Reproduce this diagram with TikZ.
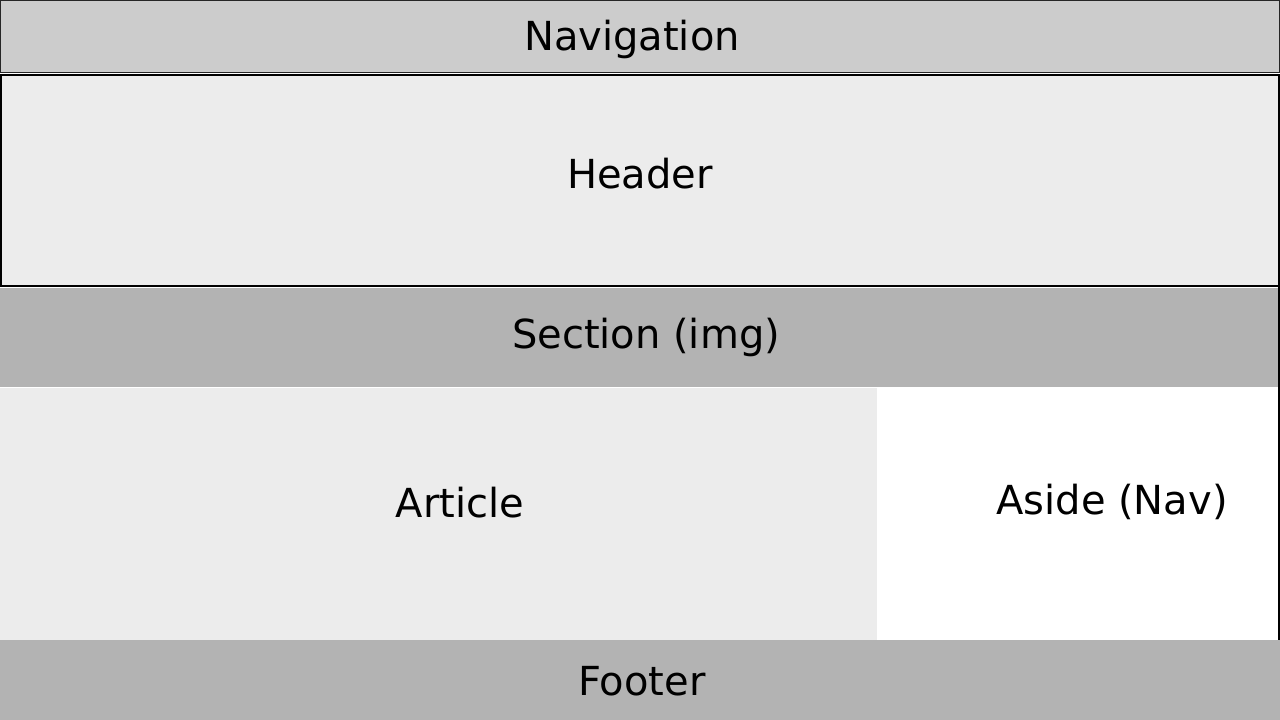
\documentclass[tikz,border=0pt]{standalone}
\usepackage{fontspec}
\setmainfont{DejaVu Sans}
\definecolor{navgray}{HTML}{CCCCCC}
\definecolor{lightgray}{HTML}{ECECEC}
\definecolor{midgray}{HTML}{B3B3B3}
\begin{document}
\begin{tikzpicture}[x=1pt,y=-1pt,
  lbl/.style={anchor=base,inner sep=0pt,font=\fontsize{40}{48}\selectfont,text=black}]
\useasboundingbox (0,0) rectangle (1280,720);
% boxes
\fill[navgray] (0,0) rectangle (1280,73);
\draw[black!85,line width=1.2pt] (0.6,0.6) rectangle (1279.4,72.4);
\fill[lightgray] (0,74) rectangle (1280,287);
\draw[black,line width=2pt] (1,75) rectangle (1279,286);
\fill[midgray] (0,288) rectangle (1280,387);
\fill[lightgray] (0,388) rectangle (877,640);
\fill[white] (877,388) rectangle (1280,640);
\draw[black,line width=1.5pt] (1279,287) -- (1279,640);
\fill[midgray] (0,640) rectangle (1280,720);
% labels
\node[lbl] (nav) at (632,50) {Navigation};
\node[lbl] (header) at (640,188) {Header};
\node[lbl] (section) at (646,348) {Section (img)};
\node[lbl] (article) at (460,517) {Article};
\node[lbl] (aside) at (1112,514) {Aside (Nav)};
\node[lbl] (footer) at (642,695) {Footer};
\end{tikzpicture}
\end{document}
